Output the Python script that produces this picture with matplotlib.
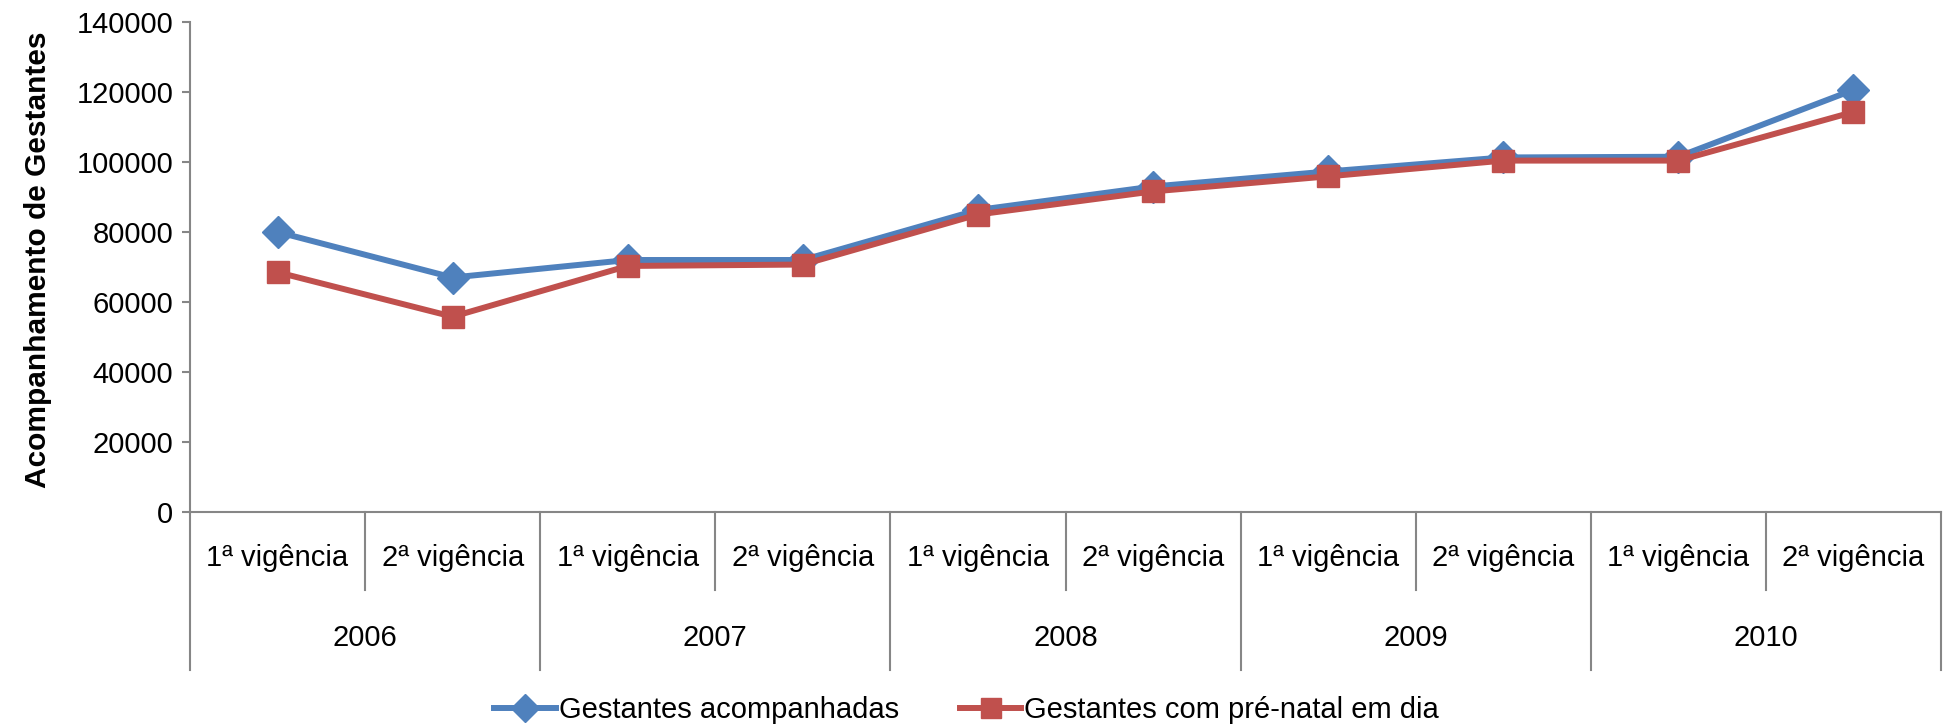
import matplotlib
matplotlib.use("Agg")
import matplotlib.pyplot as plt
from matplotlib.transforms import blended_transform_factory

plt.rcParams['font.family'] = ['Liberation Sans', 'DejaVu Sans']

years = ["2006", "2007", "2008", "2009", "2010"]
periods = ["1ª vigência", "2ª vigência"]
acompanhadas = [80000, 67000, 72000, 72000, 86300, 93000, 97300, 101300, 101500, 120600]
prenatal = [68500, 55800, 70300, 70700, 85000, 91600, 95900, 100400, 100400, 114300]
yticks = [0, 20000, 40000, 60000, 80000, 100000, 120000, 140000]

W, H = 1945, 724
fig = plt.figure(figsize=(W / 100, H / 100), dpi=100)
left, right, top, bottom = 190, 1941, 22, 512
ax = fig.add_axes([left / W, (H - bottom) / H, (right - left) / W, (bottom - top) / H])

n = len(years) * len(periods)
xs = [i + 0.5 for i in range(n)]
grey = "#868686"
FS = 21

ax.plot(xs, acompanhadas, color="#4F81BD", lw=4.3, marker="D", ms=16,
        label="Gestantes acompanhadas", zorder=3)
ax.plot(xs, prenatal, color="#C0504D", lw=4.3, marker="s", ms=16,
        label="Gestantes com pré-natal em dia", zorder=4)

ax.set_xlim(0, n)
ax.set_ylim(0, 140000)
ax.set_yticks(yticks)
ax.set_yticklabels([str(v) for v in yticks])
ax.set_xticks([])
for s in ["top", "right"]:
    ax.spines[s].set_visible(False)
for s in ["left", "bottom"]:
    ax.spines[s].set_color(grey)
    ax.spines[s].set_linewidth(1.5)
ax.tick_params(axis="y", length=6, width=1.5, color=grey, labelsize=FS, pad=6)

tr = blended_transform_factory(ax.transData, ax.transAxes)
axh = bottom - top
sub_label_y = -(558 - bottom) / axh
sub_div_y = -(590 - bottom) / axh
year_label_y = -(638 - bottom) / axh
year_div_y = -(670 - bottom) / axh

for i in range(n + 1):
    yb = year_div_y if i % 2 == 0 else sub_div_y
    ax.plot([i, i], [0, yb], color=grey, lw=1.5, transform=tr, clip_on=False)
for i in range(n):
    ax.text(i + 0.5, sub_label_y, periods[i % 2], transform=tr, ha="center",
            va="center", fontsize=FS)
for j, yr in enumerate(years):
    ax.text(2 * j + 1, year_label_y, yr, transform=tr, ha="center",
            va="center", fontsize=FS)

fig.text(38 / W, (H - 260) / H, "Acompanhamento de Gestantes", rotation=90,
         ha="center", va="center", fontsize=21.5, fontweight="bold")

fig.legend(loc="center", bbox_to_anchor=(0.497, (H - 710) / H), ncol=2,
           frameon=False, fontsize=FS, handlelength=2.1, handletextpad=0.1,
           columnspacing=2.1, markerscale=0.9)

fig.savefig("out.png", dpi=100)
